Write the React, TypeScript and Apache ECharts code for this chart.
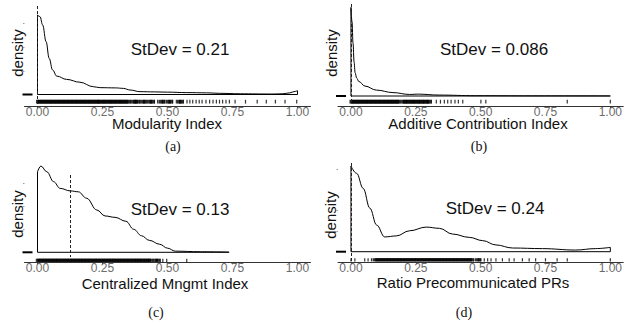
import React, { useEffect, useRef } from "react";
import * as echarts from "echarts";

// ---------- data ----------
const xTickValues = [0, 0.25, 0.5, 0.75, 1];
const xTickLabels = ["0.00", "0.25", "0.50", "0.75", "1.00"];

const axisTitles = [
  "Modularity Index",
  "Additive Contribution Index",
  "Centralized Mngmt Index",
  "Ratio Precommunicated PRs",
];
const panelTags = ["(a)", "(b)", "(c)", "(d)"];
const stDevs = ["0.21", "0.086", "0.13", "0.24"];
const refLines = [0, 0, 0.126, 0];

const densityA: [number, number][] = [
  [0, 3.37], [0.0096, 3.3], [0.02, 2.94], [0.033, 2.24], [0.045, 1.53], [0.058, 1.04],
  [0.074, 0.78], [0.112, 0.64], [0.163, 0.52], [0.215, 0.33], [0.24, 0.29], [0.3, 0.28],
  [0.33, 0.26], [0.356, 0.19], [0.394, 0.12], [0.45, 0.11], [0.5, 0.1], [0.574, 0.08],
  [0.65, 0.07], [0.7, 0.05], [0.78, 0.03], [0.9, 0.02], [0.944, 0.03], [0.97, 0.07],
  [0.99, 0.13], [1.0, 0.16],
];
const densityB: [number, number][] = [
  [0, 2.86], [0.004, 2.4], [0.008, 1.7], [0.012, 1.1], [0.016, 0.75], [0.022, 0.58],
  [0.03, 0.47], [0.054, 0.32], [0.098, 0.19], [0.162, 0.11], [0.226, 0.05], [0.26, 0.06],
  [0.34, 0.03], [0.48, 0.01], [0.7, 0.005], [1.0, 0.003],
];
const densityC: [number, number][] = [
  [0, 3.5], [0.013, 3.75], [0.036, 3.5], [0.062, 3.07], [0.087, 2.78], [0.126, 2.67],
  [0.157, 2.63], [0.189, 2.35], [0.228, 1.84], [0.26, 1.58], [0.298, 1.52], [0.34, 1.35],
  [0.37, 1.0], [0.4, 0.72], [0.43, 0.52], [0.47, 0.35], [0.5, 0.18], [0.53, 0.05],
  [0.626, 0.025], [0.737, 0.01],
];
const densityD: [number, number][] = [
  [0, 4.18], [0.022, 3.82], [0.047, 3.09], [0.073, 2.12], [0.099, 1.3], [0.13, 0.72],
  [0.175, 0.77], [0.226, 1.02], [0.29, 1.2], [0.341, 1.14], [0.392, 0.86], [0.456, 0.7],
  [0.508, 0.54], [0.559, 0.33], [0.623, 0.18], [0.738, 0.15], [0.866, 0.08], [0.942, 0.15],
  [1.0, 0.21],
];

const rugA = [
  0, 0.005, 0.01, 0.015, 0.02, 0.025, 0.03, 0.035, 0.04, 0.045, 0.05, 0.055, 0.06, 0.065,
  0.07, 0.075, 0.08, 0.085, 0.09, 0.095, 0.1, 0.105, 0.11, 0.115, 0.12, 0.125, 0.13, 0.135,
  0.14, 0.145, 0.15, 0.155, 0.16, 0.165, 0.17, 0.175, 0.18, 0.185, 0.19, 0.195, 0.2, 0.205,
  0.21, 0.215, 0.22, 0.225, 0.23, 0.235, 0.24, 0.248, 0.256, 0.263, 0.271, 0.279, 0.286,
  0.294, 0.302, 0.31, 0.318, 0.325, 0.333, 0.341, 0.349, 0.357, 0.368, 0.377, 0.385, 0.394,
  0.405, 0.414, 0.422, 0.433, 0.441, 0.45, 0.462, 0.475, 0.484, 0.49, 0.503, 0.512, 0.52,
  0.534, 0.545, 0.553, 0.561, 0.575, 0.586, 0.597, 0.61, 0.622, 0.633, 0.648, 0.662, 0.675,
  0.688, 0.7, 0.712, 0.725, 0.738, 0.76, 0.8, 0.845, 0.88, 0.915, 0.952, 0.997,
];
const rugB = [
  0, 0.005, 0.01, 0.015, 0.02, 0.025, 0.03, 0.035, 0.04, 0.045, 0.05, 0.055, 0.06, 0.065,
  0.07, 0.075, 0.08, 0.085, 0.09, 0.095, 0.1, 0.105, 0.11, 0.115, 0.12, 0.125, 0.13, 0.135,
  0.14, 0.145, 0.15, 0.155, 0.16, 0.165, 0.17, 0.175, 0.18, 0.185, 0.19, 0.2, 0.207, 0.214,
  0.221, 0.229, 0.236, 0.243, 0.25, 0.258, 0.265, 0.272, 0.28, 0.287, 0.295, 0.302, 0.31,
  0.329, 0.345, 0.36, 0.373, 0.386, 0.401, 0.414, 0.431, 0.501, 0.52, 0.834, 1.0,
];
const rugC = [
  0, 0.006, 0.012, 0.018, 0.024, 0.03, 0.036, 0.042, 0.048, 0.054, 0.06, 0.066, 0.072, 0.078,
  0.084, 0.09, 0.096, 0.102, 0.108, 0.114, 0.12, 0.126, 0.132, 0.138, 0.144, 0.15, 0.156,
  0.162, 0.168, 0.174, 0.18, 0.186, 0.192, 0.198, 0.204, 0.21, 0.216, 0.222, 0.228, 0.234,
  0.24, 0.246, 0.252, 0.258, 0.264, 0.27, 0.276, 0.282, 0.288, 0.294, 0.3, 0.306, 0.312,
  0.318, 0.324, 0.33, 0.336, 0.342, 0.348, 0.354, 0.36, 0.366, 0.372, 0.378, 0.384, 0.39,
  0.397, 0.404, 0.412, 0.42, 0.428, 0.436, 0.445, 0.455, 0.463, 0.472, 0.482, 0.497, 0.574,
];
const rugD = [
  0, 0.015, 0.053, 0.066, 0.079, 0.092, 0.1, 0.106, 0.112, 0.118, 0.124, 0.13, 0.136, 0.142,
  0.148, 0.154, 0.16, 0.166, 0.172, 0.178, 0.184, 0.19, 0.196, 0.202, 0.208, 0.214, 0.22,
  0.226, 0.232, 0.238, 0.244, 0.25, 0.256, 0.262, 0.268, 0.274, 0.28, 0.286, 0.292, 0.298,
  0.304, 0.31, 0.316, 0.322, 0.328, 0.334, 0.34, 0.346, 0.352, 0.358, 0.364, 0.37, 0.376,
  0.382, 0.388, 0.394, 0.4, 0.406, 0.412, 0.418, 0.424, 0.43, 0.436, 0.442, 0.448, 0.454,
  0.46, 0.466, 0.472, 0.486, 0.495, 0.501, 0.514, 0.527, 0.54, 0.559, 0.584, 0.61, 0.629,
  0.661, 0.687, 0.712, 0.75, 0.795, 0.834, 1.0,
];

const densities = [densityA, densityB, densityC, densityD];
const rugs = [rugA, rugB, rugC, rugD];
const yTickSets = [[1, 2, 3], [1, 2], [1, 2, 3], [1, 2, 4]];

// ---------- layout (pixels) ----------
const layout = [
  { left: 24.5, width: 286, top: 5, axisY: 106, base: 94.5, unit: 23.6, rugY: 101.7, rugH: 3.8, vTop: 6, vBot: 104,
    title: [167, 123.5], stdev: [180, 49], dens: [17, 53], tag: [173, 146] },
  { left: 338, width: 286.7, top: 4, axisY: 106, base: 96, unit: 31, rugY: 101.7, rugH: 3.8, vTop: 4, vBot: 104,
    title: [478, 123.5], stdev: [494, 49], dens: [331, 53], tag: [479, 146] },
  { left: 24.5, width: 286, top: 162, axisY: 262.3, base: 252.3, unit: 23, rugY: 260.3, rugH: 3.2, vTop: 175, vBot: 257,
    title: [165, 283], stdev: [180, 209], dens: [17, 214], tag: [156, 312] },
  { left: 338, width: 286.7, top: 162, axisY: 262.3, base: 251.7, unit: 20.5, rugY: 259.8, rugH: 3.2, vTop: 163, vBot: 261,
    title: [473, 282.5], stdev: [495, 208.5], dens: [330.5, 215], tag: [464, 312] },
];

const SANS = "'Liberation Sans', Arial, Helvetica, sans-serif";
const SERIF = "'Liberation Serif', 'DejaVu Serif', serif";

export default function App() {
  const ref = useRef<HTMLDivElement>(null);

  useEffect(() => {
    if (!ref.current) return;
    const chart = echarts.init(ref.current, undefined, { renderer: "svg" });

    const grid: any[] = [];
    const xAxis: any[] = [];
    const yAxis: any[] = [];
    const series: any[] = [];
    const graphic: any[] = [];

    layout.forEach((L, i) => {
      const yMin = (L.base - L.axisY) / L.unit;
      const yMax = (L.base - L.top) / L.unit;
      const toVal = (px: number) => (L.base - px) / L.unit;
      const pxPerX = L.width / 1.1;
      grid.push({ left: L.left, top: L.top, width: L.width, height: L.axisY - L.top, containLabel: false });
      xAxis.push({
        type: "value",
        gridIndex: i,
        min: -0.05,
        max: 1.05,
        axisLine: { onZero: false, lineStyle: { color: "#333", width: 1 } },
        axisTick: { customValues: xTickValues, length: 2, lineStyle: { color: "#333" } },
        axisLabel: {
          customValues: xTickValues,
          formatter: (v: number) => {
            const k = xTickValues.findIndex((t) => Math.abs(t - v) < 1e-9);
            return k >= 0 ? xTickLabels[k] : "";
          },
          color: "#6b6b6b",
          fontSize: 12,
          lineHeight: 8,
          fontFamily: SANS,
          margin: 1.5,
        },
        splitLine: { show: false },
      });
      yAxis.push({
        type: "value",
        gridIndex: i,
        min: yMin,
        max: yMax,
        axisLine: { show: false, onZero: false },
        axisTick: { show: true, customValues: yTickSets[i], length: 1.5, lineStyle: { color: "#999" } },
        axisLabel: { show: false },
        splitLine: { show: false },
      });

      const d = densities[i];
      const first = d[0];
      const last = d[d.length - 1];
      // closed outline of the density polygon (left edge, baseline, right edge)
      series.push({
        type: "line",
        xAxisIndex: i,
        yAxisIndex: i,
        data: [[first[0], first[1]], [first[0], 0], [last[0], 0], [last[0], last[1]]],
        showSymbol: false,
        lineStyle: { color: "#000", width: 1 },
        silent: true,
        markLine: {
          silent: true,
          symbol: ["none", "none"],
          label: { show: false },
          lineStyle: { type: [3, 2], color: "#222", width: 1 },
          data: [[{ coord: [refLines[i], toVal(L.vTop)] }, { coord: [refLines[i], toVal(L.vBot)] }]],
        },
      });
      // density curve
      series.push({
        type: "line",
        xAxisIndex: i,
        yAxisIndex: i,
        data: d,
        smooth: 0.4,
        smoothMonotone: "x",
        showSymbol: false,
        lineStyle: { color: "#000", width: 1 },
        silent: true,
      });
      // rug: each tick widens to meet its neighbour when observations are packed closely
      const rugVal = toVal(L.rugY);
      const arr = rugs[i];
      series.push({
        type: "scatter",
        xAxisIndex: i,
        yAxisIndex: i,
        data: arr.map((v) => [v, rugVal]),
        symbol: "rect",
        symbolSize: (_v: any, p: any) => {
          const k = p.dataIndex;
          const gap = k < arr.length - 1 ? (arr[k + 1] - arr[k]) * pxPerX : 99;
          const w = gap < 2.6 ? gap * 2 + 0.4 : 1.2;
          return [w, L.rugH];
        },
        itemStyle: { color: "#000" },
        silent: true,
      });

      // baseline dash on the y axis
      graphic.push({
        type: "rect",
        shape: { x: L.left - 2, y: L.base - 1, width: 10, height: 2 },
        style: { fill: "#000" },
        silent: true,
      });
      graphic.push({
        type: "text",
        x: L.stdev[0],
        y: L.stdev[1],
        style: { text: `StDev = ${stDevs[i]}`, fontSize: 17, fontFamily: SANS, fill: "#111", align: "center", verticalAlign: "middle" },
      });
      graphic.push({
        type: "text",
        x: L.title[0],
        y: L.title[1],
        style: { text: axisTitles[i], fontSize: 15, lineHeight: 10, fontFamily: SANS, fill: "#111", align: "center", verticalAlign: "middle" },
      });
      graphic.push({
        type: "text",
        x: L.dens[0],
        y: L.dens[1],
        rotation: Math.PI / 2,
        style: { text: "density", fontSize: 15, fontFamily: SANS, fill: "#111", align: "center", verticalAlign: "middle" },
      });
      graphic.push({
        type: "text",
        x: L.tag[0],
        y: L.tag[1],
        style: { text: panelTags[i], fontSize: 14, fontFamily: SERIF, fill: "#111", align: "center", verticalAlign: "middle" },
      });
    });

    chart.setOption({
      animation: false,
      backgroundColor: "#fff",
      grid,
      xAxis,
      yAxis,
      series,
      graphic,
    });

    return () => chart.dispose();
  }, []);

  return (
    <div
      ref={ref}
      style={{ position: "fixed", left: 0, top: 0, width: 625, height: 324, background: "#fff" }}
    />
  );
}
